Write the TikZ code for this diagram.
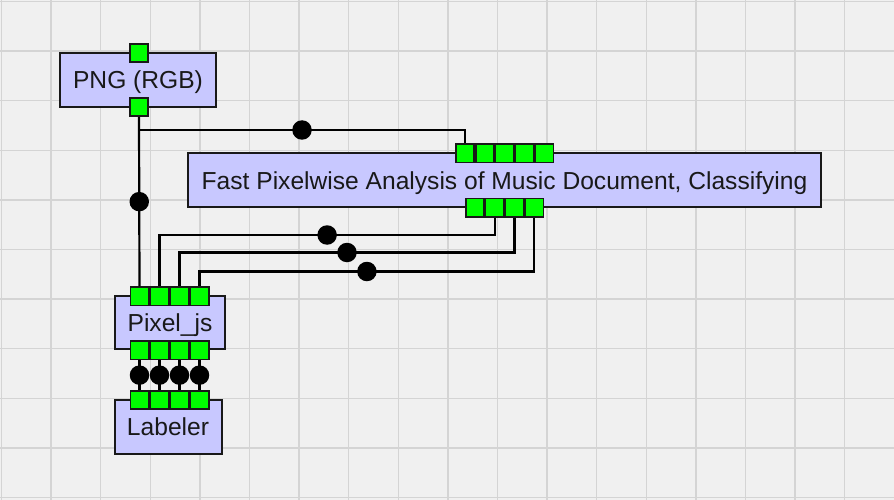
\documentclass[tikz,border=0pt]{standalone}
\usepackage{fontspec}
\setmainfont{Liberation Sans}
\definecolor{bgc}{RGB}{240,240,240}
\definecolor{gridc}{RGB}{212,212,212}
\definecolor{boxfill}{RGB}{200,200,255}
\definecolor{portgreen}{RGB}{0,255,0}
\definecolor{edgec}{RGB}{25,25,25}
\begin{document}
\begin{tikzpicture}[x=1pt,y=-1pt,
  gridline/.style={draw=gridc, line width=1.4pt},
  box/.style={draw=edgec, line width=2pt, fill=boxfill, inner sep=0pt,
    text height=17.5pt, text depth=0pt, text=black!90, font=\fontsize{24.6}{28}\selectfont},
  port/.style={draw=edgec, line width=1.7pt, fill=portgreen, minimum size=18.3pt, inner sep=0pt},
  wire/.style={line width=2.2pt, draw=black},
  dot/.style={circle, fill=black, minimum size=19.5pt, inner sep=0pt}]
\fill[bgc] (0,0) rectangle (894,500);
\useasboundingbox (0,0) rectangle (894,500);
\foreach \i in {0,...,18} \draw[gridline] ({1.5+49.6*\i},0) -- ++(0,500);
\foreach \j in {0,...,10} \draw[gridline] (0,{1.5+49.6*\j}) -- ++(894,0);

% boxes
\node[box, minimum width=156pt, minimum height=54pt] (png) at (138,80) {PNG (RGB)};
\node[box, minimum width=633pt, minimum height=54pt] (fpa) at (504.5,180.3) {Fast Pixelwise Analysis of Music Document, Classifying};
\node[box, minimum width=110pt, minimum height=53.5pt] (pix) at (170,322.7) {Pixel\_js};
\node[box, minimum width=107pt, minimum height=54pt] (lab) at (168,427) {Labeler};

% ports
\node[port] (pngt) at (139,53) {};
\node[port] (pngb) at (139,107) {};
\foreach \i in {1,...,5} \node[port] (bt\i) at ({465+19.8*(\i-1)},153.3) {};
\foreach \i in {1,...,4} \node[port] (bb\i) at ({474.9+19.8*(\i-1)},207.5) {};
\foreach \i in {1,...,4} \node[port] (pt\i) at ({139.5+20*(\i-1)},296.3) {};
\foreach \i in {1,...,4} \node[port] (pb\i) at ({139.5+20*(\i-1)},350.3) {};
\foreach \i in {1,...,4} \node[port] (lt\i) at ({139.5+20*(\i-1)},400) {};

% wires
\draw[wire] (pngb.south) -- node[dot]{} (pt1.north);
\draw[wire] (pngb.south) -- ++(0,13) -| node[dot,pos=0.25]{} (bt1.north);
\draw[wire] (bb2.south) -- ++(0,17.5) -| node[dot,pos=0.25]{} (pt2.north);
\draw[wire] (bb3.south) -- ++(0,35) -| node[dot,pos=0.25]{} (pt3.north);
\draw[wire] (bb4.south) -- ++(0,54) -| node[dot,pos=0.25]{} (pt4.north);
\foreach \i in {1,...,4} \draw[wire] (pb\i.south) -- node[dot]{} (lt\i.north);
\end{tikzpicture}
\end{document}
